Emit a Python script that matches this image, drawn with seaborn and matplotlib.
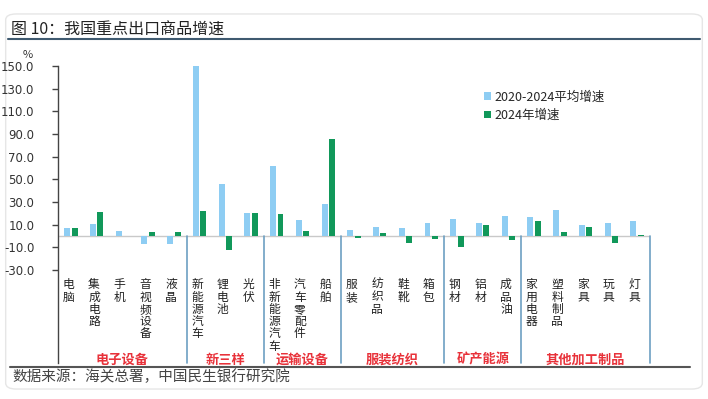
import matplotlib
matplotlib.use('Agg')
import matplotlib.pyplot as plt
import seaborn as sns
import pandas as pd
from matplotlib.patches import FancyBboxPatch
from matplotlib.lines import Line2D

categories = ['电脑', '集成电路', '手机', '音视频设备', '液晶',
              '新能源汽车', '锂电池', '光伏',
              '非新能源汽车', '汽车零配件', '船舶',
              '服装', '纺织品', '鞋靴', '箱包',
              '钢材', '铝材', '成品油',
              '家用电器', '塑料制品', '家具', '玩具', '灯具']
avg_2020_2024 = [7.0, 10.6, 4.4, -7.4, -7.4,
                 150.0, 45.7, 20.4,
                 62.2, 14.2, 28.0,
                 5.6, 7.7, 6.8, 11.2,
                 15.3, 11.8, 18.0,
                 17.0, 23.3, 10.0, 11.8, 13.6]
growth_2024 = [7.0, 21.2, 0.0, 3.8, 3.8,
               22.0, -12.0, 20.4,
               19.8, 4.7, 85.3,
               -1.5, 2.4, -6.0, -3.0,
               -9.7, 9.7, -3.5,
               13.0, 3.2, 7.7, -6.0, 0.9]
series_names = ['2020-2024平均增速', '2024年增速']
group_names = ['电子设备', '新三样', '运输设备', '服装纺织', '矿产能源', '其他加工制品']
group_sizes = [5, 3, 3, 4, 3, 5]
yticks = [150, 130, 110, 90, 70, 50, 30, 10, -10, -30]

sns.set_theme(style='white')
plt.rcParams['font.family'] = ['Noto Sans CJK SC', 'DejaVu Sans']
plt.rcParams['axes.unicode_minus'] = False

df = pd.DataFrame({
    'category': categories * 2,
    'series': [series_names[0]] * len(categories) + [series_names[1]] * len(categories),
    'value': avg_2020_2024 + growth_2024,
})

fig = plt.figure(figsize=(7.08, 3.99), dpi=100)
fig.patch.set_facecolor('white')

# card border
card = FancyBboxPatch((0.008, 0.025), 0.984, 0.94, boxstyle='round,pad=0,rounding_size=0.015',
                      transform=fig.transFigure, facecolor='none', edgecolor='#e6e6e6', lw=1.0,
                      zorder=-1)
fig.patches.append(card)

ax = fig.add_axes([0.0819, 0.0902, 0.8362, 0.7444])
ax.set_facecolor('none')

sns.barplot(data=df, x='category', y='value', hue='series', order=categories,
            hue_order=series_names, palette=['#8ecdf3', '#11985a'], saturation=1,
            width=0.58, gap=0.2, ax=ax, legend=True, zorder=3,
            edgecolor='none', linewidth=0)

ax.set_xlim(-0.5, len(categories) - 0.5)
ax.set_ylim(-112, 150)
ax.set_xlabel('')
ax.set_ylabel('')
ax.set_xticks([])
ax.set_yticks(yticks)
ax.set_yticklabels([f'{v:.1f}' for v in yticks], fontsize=8.5, color='#333333',
                   family=['DejaVu Sans'])
ax.tick_params(axis='y', direction='out', length=4, width=1, color='#444444', pad=13, left=True)
for s in ['top', 'right', 'bottom']:
    ax.spines[s].set_visible(False)
ax.spines['left'].set_color('#444444')
ax.spines['left'].set_linewidth(1.0)

# zero line
ax.axhline(0, color='#c9c9c9', lw=1.0, zorder=2)

# group separators, category labels and group labels
start = 0
for name, size in zip(group_names, group_sizes):
    end = start + size
    ax.plot([end - 0.5, end - 0.5], [0, -112], color='#6d9fc2', lw=1.2, zorder=2, clip_on=False)
    ax.text((start + end - 1) / 2, -109, name, ha='center', va='center',
            fontsize=9.5, color='#e8323a', fontweight='bold')
    start = end

char_step = 10.85  # vertical spacing of stacked label characters (data units)
for i, cat in enumerate(categories):
    for j, ch in enumerate(cat):
        ax.text(i - 0.1, -43 - j * char_step, ch, ha='center', va='center', fontsize=8.5,
                color='#222222')

ax.text(-0.052, 1.02, '%', transform=ax.transAxes, ha='center', va='bottom',
        fontsize=8, color='#333333')

handles, labels = ax.get_legend_handles_labels()
ax.legend(handles, labels, loc='upper left', bbox_to_anchor=(0.711, 0.935), frameon=False,
          fontsize=9, handlelength=0.55, handleheight=0.55, handletextpad=0.3,
          labelspacing=0.45, borderaxespad=0)

# title and underline
fig.text(0.016, 0.925, '图 10：我国重点出口商品增速', ha='left', va='center', fontsize=11.5,
         color='#222222', fontweight='medium')
fig.add_artist(Line2D([0.012, 0.988], [0.903, 0.903], transform=fig.transFigure,
                      color='#3f5a70', lw=1.5))

# source line and text
fig.add_artist(Line2D([0.014, 0.975], [0.08, 0.08], transform=fig.transFigure,
                      color='#555555', lw=1.5))
fig.text(0.018, 0.055, '数据来源：海关总署，中国民生银行研究院', ha='left', va='center',
         fontsize=10.5, color='#444444')

fig.savefig('out.png', dpi=100, facecolor='white')
